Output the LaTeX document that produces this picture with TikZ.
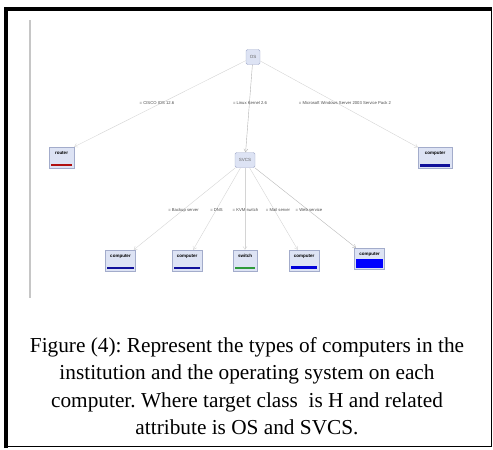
\documentclass[tikz,border=0pt]{standalone}
\usepackage{fontspec}
\setmainfont{Liberation Serif}
\newfontfamily\labelfont{Liberation Sans}
\usetikzlibrary{arrows.meta}
\frenchspacing

\definecolor{boxfill}{HTML}{DDE3F4}
\definecolor{boxline}{HTML}{A3ACCB}
\definecolor{edgegray}{HTML}{D4D4D4}
\definecolor{routerred}{HTML}{B01010}
\definecolor{compblue}{HTML}{10109A}
\definecolor{switchgreen}{HTML}{2E9A3A}

\begin{document}
\begin{tikzpicture}[
  x = 1pt, y = -1pt,
  every node/.style = {inner sep = 0pt},
  attrbox/.style = {
    draw = boxline, fill = boxfill, rounded corners = 1.5pt,
    minimum height = 15pt,
    font = \labelfont\fontsize{4.5}{5}\selectfont, text = gray!80!black
  },
  classbox/.style = {
    draw = boxline, fill = boxfill,
    minimum width = 30pt, minimum height = 21pt,
    text height = 3pt, text depth = 10pt,
    font = \labelfont\bfseries\fontsize{4.5}{5}\selectfont
  },
  valuelabel/.style = {font = \labelfont\fontsize{4.2}{5}\selectfont, text = gray!60!black},
  link/.style = {draw = edgegray, thin, -{Straight Barb[length=3pt, width=4pt]}}
]
  \useasboundingbox (0,0) rectangle (493,450);

  % Rahmen
  \draw[black, line width = 1.6pt] (5,8) rectangle (491.5,446.5);
  \draw[black, line width = 4pt] (5.5,448) -- (5.5,8.5) -- (492,8.5);
  \draw[gray!45, line width = 1.2pt] (30,20) -- (30,298);

  % Knoten
  \node[attrbox, minimum width = 14pt] (os)   at (253,57)  {OS};
  \node[attrbox, minimum width = 20pt] (svcs) at (245,160) {SVCS};

  \node[classbox, minimum width = 25pt] (router) at (61.5,157.5) {router};
  \node[classbox, minimum width = 34pt] (comp)   at (435,158)   {computer};

  \node[classbox] (compA)  at (120.5,260.5) {computer};
  \node[classbox] (compB)  at (187,260.5)   {computer};
  \node[classbox, minimum width = 24pt] (switch) at (245,260.5) {switch};
  \node[classbox] (compC)  at (304,260.5)   {computer};
  \node[classbox] (compD)  at (369.5,258.5) {computer};

  % Balken
  \fill[routerred]   ([xshift=2pt, yshift=2pt]router.south west) rectangle ([xshift=-2pt, yshift=4.5pt]router.south east);
  \fill[compblue]    ([xshift=2pt, yshift=2pt]comp.south west)   rectangle ([xshift=-2pt, yshift=4.5pt]comp.south east);
  \fill[compblue]    ([xshift=2pt, yshift=2pt]compA.south west)  rectangle ([xshift=-2pt, yshift=4pt]compA.south east);
  \fill[compblue]    ([xshift=2pt, yshift=2pt]compB.south west)  rectangle ([xshift=-2pt, yshift=4pt]compB.south east);
  \fill[switchgreen] ([xshift=2pt, yshift=2pt]switch.south west) rectangle ([xshift=-2pt, yshift=4.5pt]switch.south east);
  \fill[blue!85!black] ([xshift=2pt, yshift=2pt]compC.south west) rectangle ([xshift=-2pt, yshift=5pt]compC.south east);
  \fill[blue]        ([xshift=2pt, yshift=1.5pt]compD.south west) rectangle ([xshift=-2pt, yshift=10pt]compD.south east);

  % Kanten
  \draw[link] (os) -- (router.north east);
  \draw[link, draw = gray!60] (os) -- (svcs);
  \draw[link] (os) -- (comp.north west);
  \draw[link] (svcs) -- (compA);
  \draw[link] (svcs) -- (compB);
  \draw[link] (svcs) -- (switch);
  \draw[link] (svcs) -- (compC);
  \draw[link, draw = gray!55] (svcs) -- (compD);

  % Werte
  \node[valuelabel] (osA) at (157,103) {= CISCO IOS 12.6};
  \node[valuelabel] (osB) at (250,103) {= Linux Kernel 2.6};
  \node[valuelabel] (osC) at (345,103) {= Microsoft Windows Server 2003 Service Pack 2};

  \node[valuelabel] (svA) at (183.5,210) {= Backup server};
  \node[valuelabel] (svB) at (216.5,210) {= DNS};
  \node[valuelabel] (svC) at (245.5,210) {= KVM switch};
  \node[valuelabel] (svD) at (278,210)   {= Mail server};
  \node[valuelabel] (svE) at (309,210)   {= Web service};

  % Beschriftung
  \node[align = center, font = \fontsize{21.3}{27.4}\selectfont] (caption) at (247,386)
    {Figure (4): Represent the types of computers in the\\
     institution and the operating system on each\\
     computer. Where target class\ \ is H and related\\
     attribute is OS and SVCS.};
\end{tikzpicture}
\end{document}
